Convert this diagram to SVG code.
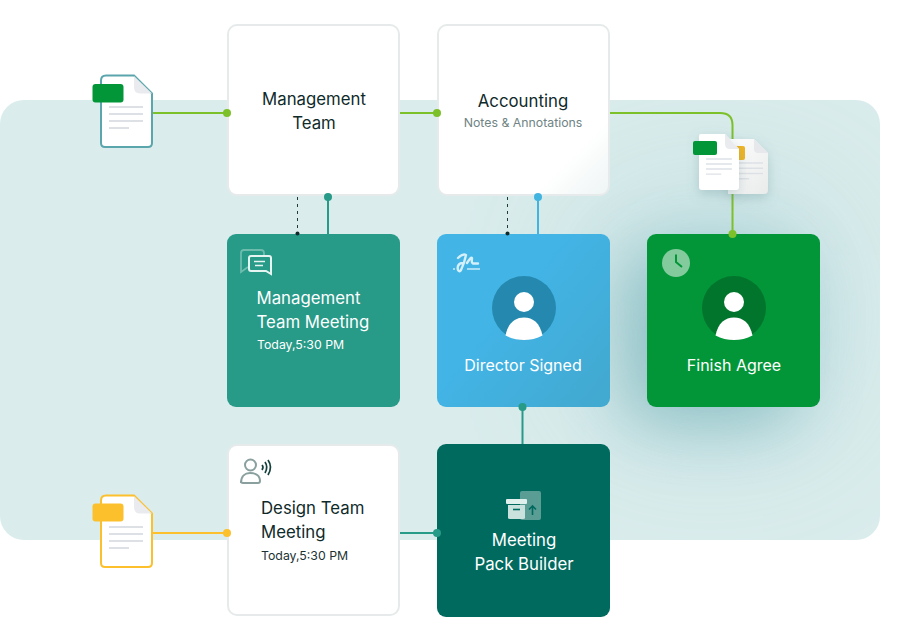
<svg xmlns="http://www.w3.org/2000/svg" width="920" height="640" viewBox="0 0 920 640">
<style>
text{font-family:Inter,"Liberation Sans",sans-serif}
.t{font-size:16.800px;font-weight:400;text-anchor:middle}
.s{font-size:16px}
.dark{fill:#0f2a2a}
.w{fill:#fff}
.card{fill:#fff;stroke:#e6eaea;stroke-width:2}
.ln{fill:none;stroke-width:2}
.rule{stroke:#dde1e6;stroke-width:2;fill:none}
</style>
<defs>
<linearGradient id="acc" x1="0.55" y1="0.55" x2="1" y2="1"><stop offset="0" stop-color="#fff"/><stop offset=".5" stop-color="#fff"/><stop offset="1" stop-color="#eef4f4"/></linearGradient>
<linearGradient id="blue" x1="0.4" y1="0.4" x2="1" y2="0.9"><stop offset="0" stop-color="#42b4e6"/><stop offset="1" stop-color="#42a9d0"/></linearGradient>
<linearGradient id="paper" x1="0" y1="0" x2="1" y2="1"><stop offset="0" stop-color="#fff"/><stop offset="1" stop-color="#e9eaea"/></linearGradient>
<filter id="sh" x="-40%" y="-40%" width="180%" height="180%"><feDropShadow dx="0" dy="4" stdDeviation="6" flood-color="#5d8487" flood-opacity=".3"/></filter>
<filter id="blur" filterUnits="userSpaceOnUse" x="350" y="0" width="570" height="640"><feGaussianBlur stdDeviation="34"/></filter>
<filter id="blurwide" filterUnits="userSpaceOnUse" x="250" y="0" width="670" height="640"><feGaussianBlur stdDeviation="75"/></filter>
<clipPath id="bandclip"><rect x="0" y="100" width="880" height="440" rx="24"/></clipPath>
<g id="person"><circle cx="0" cy="0" r="32" fill="var(--c)"/><circle cx="0" cy="-6" r="10" fill="#fff"/><path d="M-18.500 27.500C-16 15-9 9.500 0 9.500S16 15 18.500 27.500C7 33.500-7 33.500-18.500 27.500Z" fill="#fff"/></g>
<g id="rules"><path class="rule" d="M0 0H34M0 7H34M0 14H34M0 21H20"/></g>
</defs>

<rect id="band" x="0" y="100" width="880" height="440" rx="24" fill="#daecec"/>
<g clip-path="url(#bandclip)"><rect id="wide-glow" x="610" y="220" width="200" height="190" rx="30" fill="#7fbcc4" opacity=".4" filter="url(#blurwide)"/></g>
<rect id="card-glow" x="625" y="255" width="170" height="170" rx="20" fill="#3f939d" opacity=".42" filter="url(#blur)"/>

<g id="connectors">
<path class="ln" stroke="#7cc02a" d="M150 113H227"/>
<path class="ln" stroke="#7cc02a" d="M400 113H437"/>
<path class="ln" stroke="#7cc02a" d="M610 113H720Q732.500 113 732.500 125V234"/>
<path fill="none" stroke="#1d3b3b" stroke-width="1" stroke-dasharray="3 4" d="M297.500 197V231M507.500 197V231"/>
<path class="ln" stroke="#279a88" d="M328 197V234"/>
<path class="ln" stroke="#42b4e0" d="M538 197V234"/>
<path class="ln" stroke="#279a88" d="M522.500 407V444"/>
<path class="ln" stroke="#fcc02d" d="M150 533H227"/>
<path class="ln" stroke="#279a88" d="M400 533H437"/>
</g>

<g id="doc-green">
<path d="M106 75.500H134L152 93.500V143Q152 147 148 147H105Q101 147 101 143V80.500Q101 75.500 106 75.500Z" fill="#fff" stroke="#5ba6ac" stroke-width="2"/>
<path d="M134 76L152 93.500H140Q134 93.500 134 87Z" fill="#e9ebef"/>
<rect x="92.500" y="84" width="31" height="18.500" rx="3" fill="#029639"/>
<use href="#rules" x="109" y="107"/>
</g>

<g id="management-team">
<rect class="card" x="228" y="25" width="171" height="170" rx="9"/>
<text class="t dark" x="314" y="105">Management</text>
<text class="t dark" x="314" y="129">Team</text>
</g>

<g id="accounting">
<rect x="438" y="25" width="171" height="170" rx="9" fill="url(#acc)" stroke="#e6eaea" stroke-width="2"/>
<text class="t dark" x="523" y="107">Accounting</text>
<text x="523" y="127" font-size="12.300" fill="#6f8484" text-anchor="middle">Notes &amp; Annotations</text>
</g>

<g id="docs-pair">
<path d="M728 139H754L768 153V190Q768 194 764 194H728Z" fill="url(#paper)" filter="url(#sh)"/>
<path d="M754 139L768 153H758Q754 153 754 149Z" fill="#e6e8ec"/>
<rect x="735" y="146" width="10" height="14" rx="2" fill="#eeb425"/>
<use href="#rules" x="0" y="0" transform="translate(729 163) scale(1 .75)"/>
<path d="M701 134H725L739 149V187Q739 190 736 190H702Q699 190 699 187V136Q699 134 701 134Z" fill="#fff" filter="url(#sh)"/>
<path d="M725 134L739 149H730Q725 149 725 144Z" fill="#e9ebef"/>
<rect x="693" y="141" width="24" height="14" rx="2" fill="#029639"/>
<g transform="translate(706 159) scale(.76 .72)"><use href="#rules"/></g>
</g>

<g id="management-team-meeting">
<rect x="227" y="234" width="173" height="173" rx="9" fill="#279a88"/>
<path d="M243 250H261Q264 250 264 253V255M248 267L241 272V253Q241 250 244 250" fill="none" stroke="#6dbcae" stroke-width="1.800"/>
<path d="M251 256H269Q271 256 271 258V274L266 271H251Q249 271 249 269V258Q249 256 251 256Z" fill="#279a88" stroke="#e6f5f2" stroke-width="2"/>
<path d="M254 261.500H265M255 265.500H263" stroke="#e6f5f2" stroke-width="1.700" fill="none"/>
<text class="t w" x="256.500" y="304" style="text-anchor:start">Management</text>
<text class="t w" x="256.500" y="328" style="text-anchor:start">Team Meeting</text>
<text x="257" y="349" font-size="12.300" fill="#fff">Today,5:30 PM</text>
</g>

<g id="director-signed">
<rect x="437" y="234" width="173" height="173" rx="9" fill="url(#blue)"/>
<path d="M453 269H455M467 269H480" fill="none" stroke="#c6ebfa" stroke-width="1.600"/>
<path d="M458 258C461 255 464 254 466 255C465 260 463 266 461 270C459 273 457 270 458 266C459 263 461 263 463 263M467 263C469 260 471 257 472 258C472 260 471 263 473 263.500H478" fill="none" stroke="#d4f0fb" stroke-width="2.400" stroke-linecap="round" stroke-linejoin="round"/>
<use href="#person" x="524" y="308" style="--c:#2589af"/>
<text class="t w s" x="523" y="371">Director Signed</text>
</g>

<g id="finish-agree">
<rect x="647" y="234" width="173" height="173" rx="9" fill="#029639"/>
<circle cx="676" cy="263" r="14" fill="#83cb9c"/>
<path d="M676 254.500V262L682 267" fill="none" stroke="#029639" stroke-width="2"/>
<use href="#person" x="734" y="308" style="--c:#02752c"/>
<text class="t w s" x="734" y="371">Finish Agree</text>
</g>

<g id="doc-yellow">
<path d="M106 495.500H134L152 513.500V563Q152 567 148 567H105Q101 567 101 563V500.500Q101 495.500 106 495.500Z" fill="#fff" stroke="#fcc02d" stroke-width="2"/>
<path d="M134 496L152 513.500H140Q134 513.500 134 507Z" fill="#e9ebef"/>
<rect x="92.500" y="503.500" width="31" height="18" rx="3" fill="#fcc02d"/>
<use href="#rules" x="109" y="527"/>
</g>

<g id="design-team-meeting">
<rect class="card" x="228" y="445" width="171" height="170" rx="9"/>
<circle cx="250.500" cy="465" r="5.500" fill="none" stroke="#8aa09f" stroke-width="2"/>
<path d="M241 483C241 476 245 473 250 473C256 473 260 476 260 481Q260 483 258 483H243Q241 483 241 481Z" fill="none" stroke="#8aa09f" stroke-width="2"/>
<path d="M262 465Q264 467 262 470M265 462Q268.500 467 265 473M268 460Q273 467 268 475" fill="none" stroke="#14403c" stroke-width="1.700"/>
<text class="t dark" x="261" y="514" style="text-anchor:start">Design Team</text>
<text class="t dark" x="261" y="538" style="text-anchor:start">Meeting</text>
<text x="261" y="560" font-size="12.300" fill="#1d3333">Today,5:30 PM</text>
</g>

<g id="meeting-pack-builder">
<rect x="437" y="444" width="173" height="173" rx="9" fill="#016a5f"/>
<rect x="520" y="491" width="21" height="29" rx="2" fill="#5a9d95"/>
<path d="M532.500 515V506M529 509.500L532.500 506L536 509.500" fill="none" stroke="#016a5f" stroke-width="1.600"/>
<rect x="506" y="499" width="21" height="5" rx="1" fill="#dff0ed"/>
<path d="M508 505H525V518Q525 519 523 519H510Q508 519 508 518Z" fill="#c9e2de"/>
<path d="M513 509.500H520" stroke="#016a5f" stroke-width="1.600"/>
<text class="t w" x="524" y="546">Meeting</text>
<text class="t w" x="524" y="570">Pack Builder</text>
</g>

<g id="dots">
<circle cx="227" cy="113" r="4" fill="#7cc02a"/>
<circle cx="437" cy="113" r="4" fill="#7cc02a"/>
<circle cx="732.500" cy="234" r="4" fill="#7cc02a"/>
<circle cx="297.500" cy="233.500" r="2" fill="#0f2a2a"/>
<circle cx="507.500" cy="233.500" r="2" fill="#0f2a2a"/>
<circle cx="328" cy="197" r="4" fill="#279a88"/>
<circle cx="538" cy="197" r="4" fill="#42b4e0"/>
<circle cx="522.500" cy="407" r="4" fill="#279a88"/>
<circle cx="227" cy="533" r="4" fill="#fcc02d"/>
<circle cx="437" cy="533" r="4" fill="#279a88"/>
</g>
</svg>
